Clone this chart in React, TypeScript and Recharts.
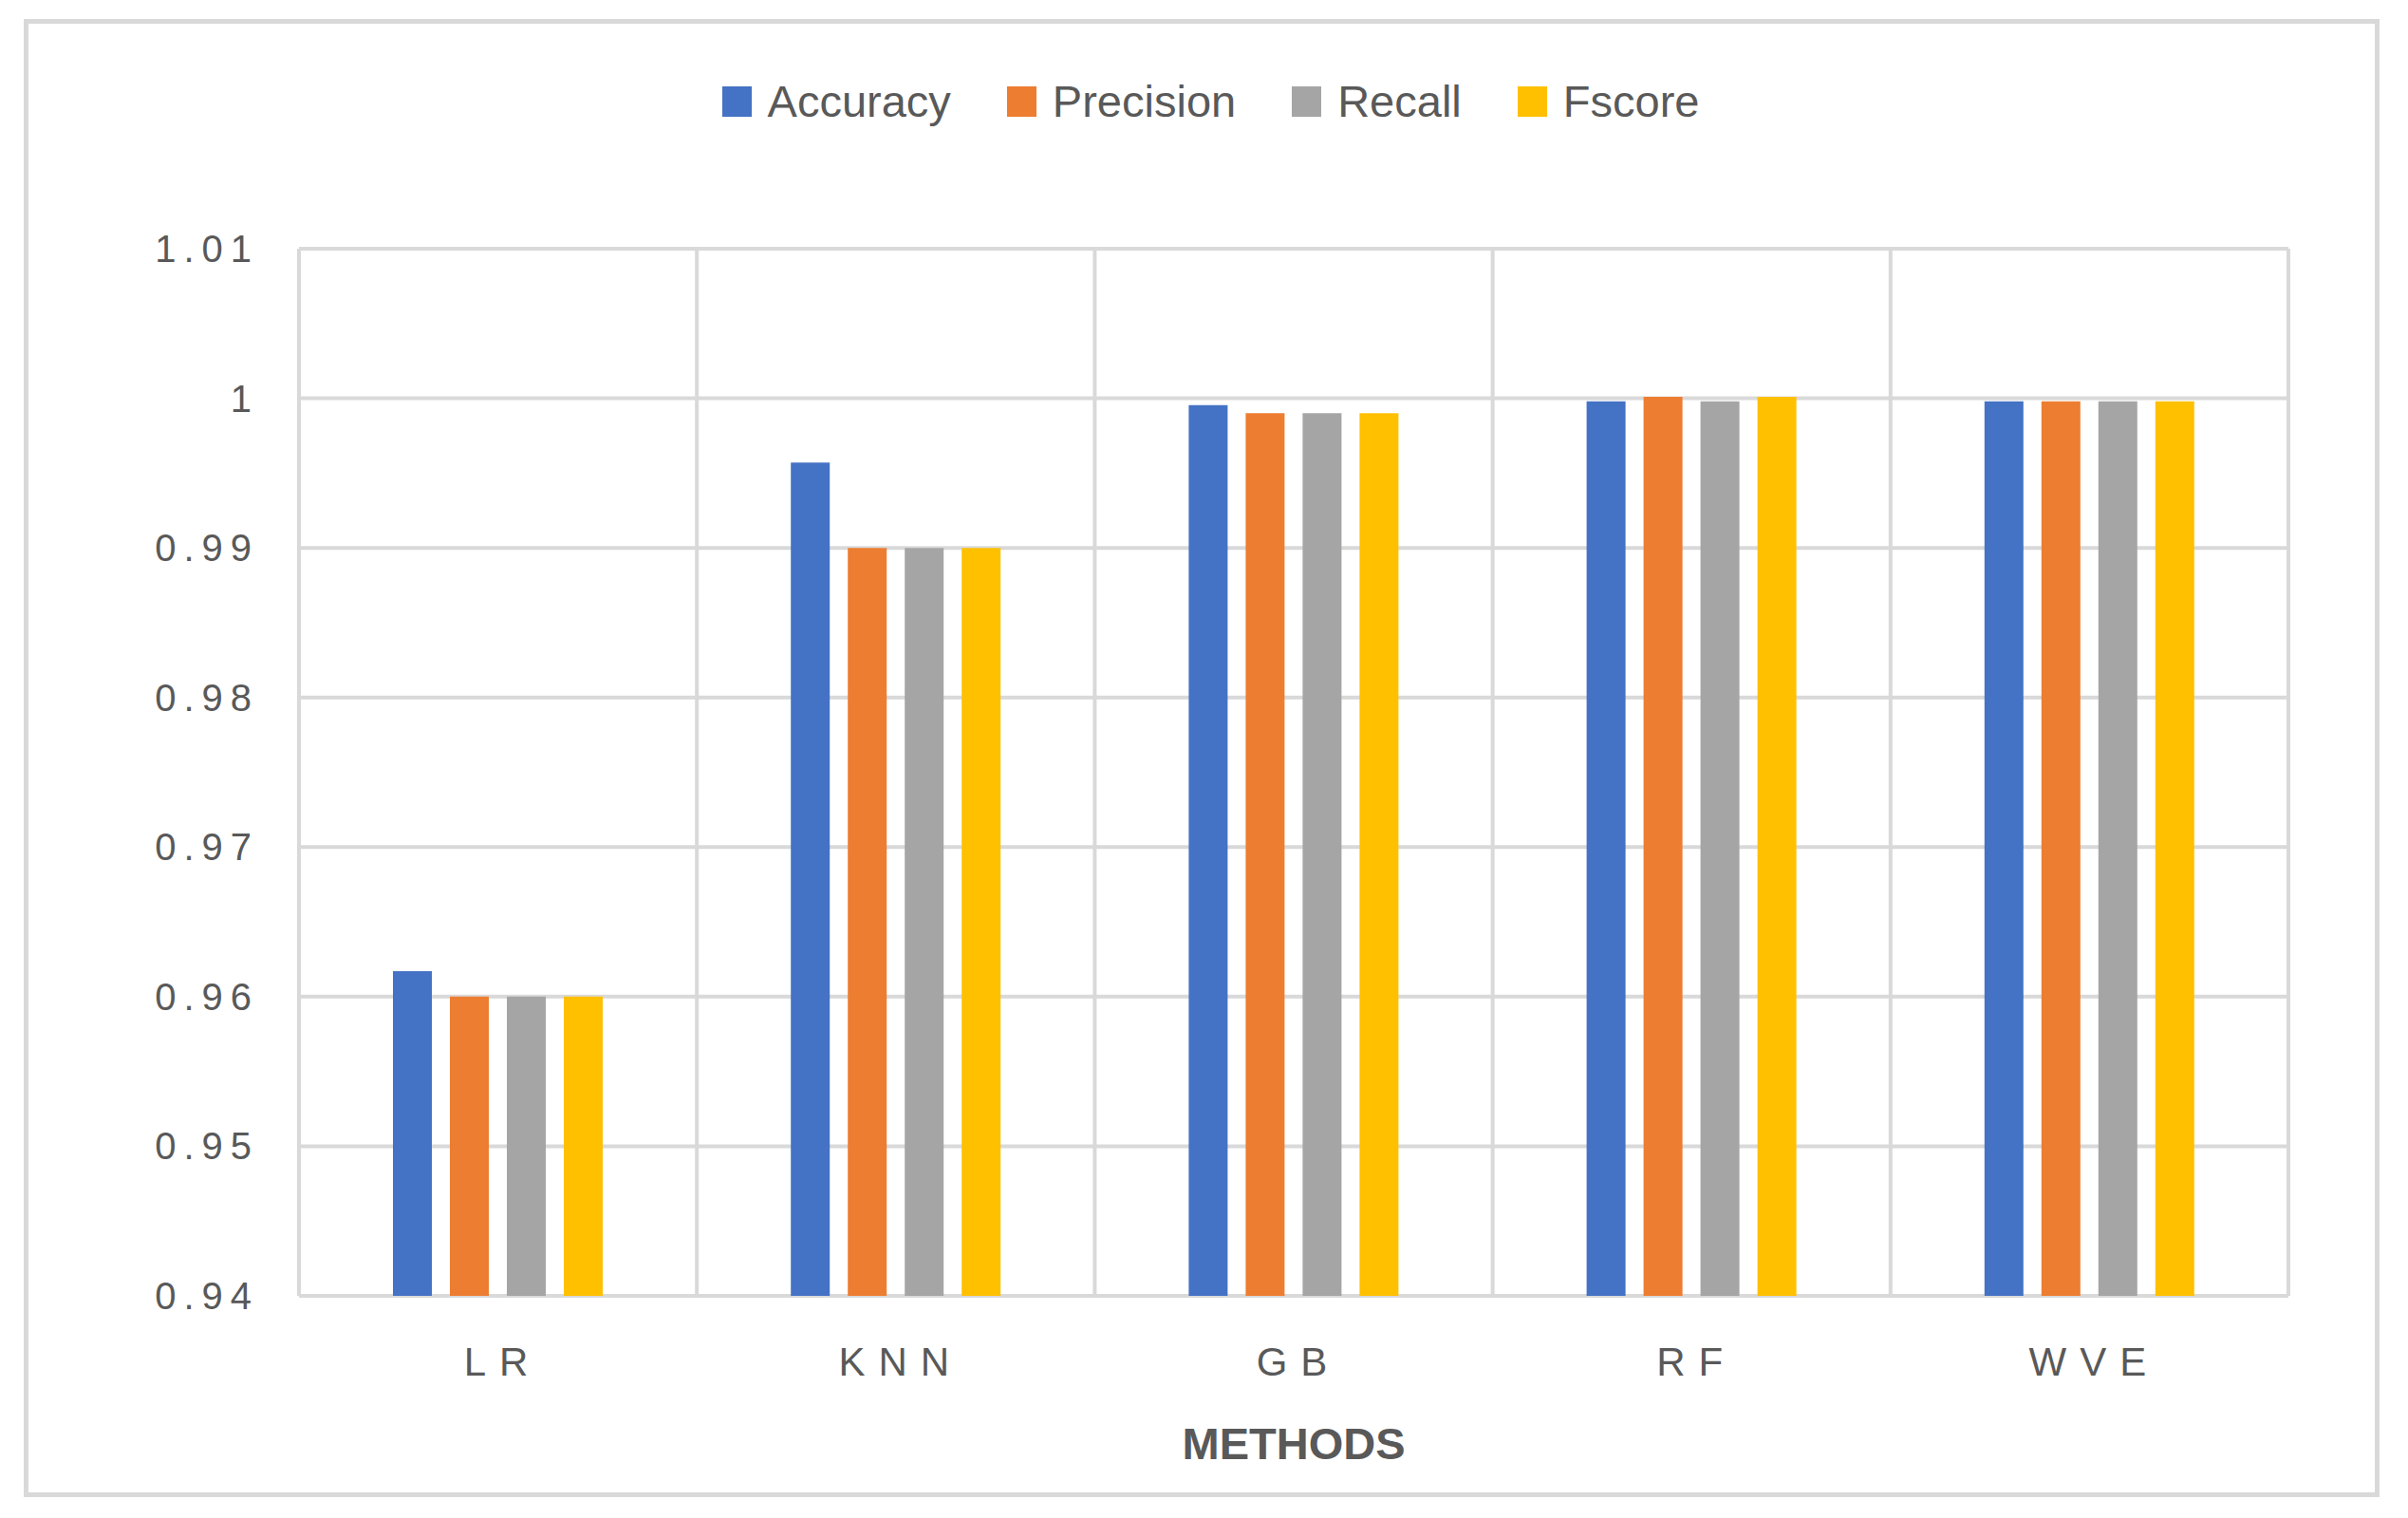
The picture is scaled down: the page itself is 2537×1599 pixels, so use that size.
import { BarChart, Bar, XAxis, YAxis, CartesianGrid, Legend } from 'recharts'

const methods = ['LR', 'KNN', 'GB', 'RF', 'WVE']
const accuracy = [0.9617, 0.9957, 0.99955, 0.9998, 0.9998]
const precision = [0.96, 0.99, 0.999, 1.0001, 0.9998]
const recall = [0.96, 0.99, 0.999, 0.9998, 0.9998]
const fscore = [0.96, 0.99, 0.999, 1.0001, 0.9998]
const yTicks = [0.94, 0.95, 0.96, 0.97, 0.98, 0.99, 1, 1.01]

const series = [
  { key: 'Accuracy', color: '#4472C4' },
  { key: 'Precision', color: '#ED7D31' },
  { key: 'Recall', color: '#A5A5A5' },
  { key: 'Fscore', color: '#FFC000' },
]

const data = methods.map((m, i) => ({
  method: m,
  Accuracy: accuracy[i],
  Precision: precision[i],
  Recall: recall[i],
  Fscore: fscore[i],
}))

const FONT = '"Liberation Sans", Arial, sans-serif'
const TEXT = '#595959'

const XTick = ({ x, y, payload }: any) => (
  <text x={x + 5} y={y + 82} textAnchor="middle" fill={TEXT} fontSize={42} fontFamily={FONT} letterSpacing={14}>
    {payload.value}
  </text>
)

const YTick = ({ x, y, payload }: any) => (
  <text x={x - 40} y={y + 14} textAnchor="end" fill={TEXT} fontSize={40} fontFamily={FONT} letterSpacing={8}>
    {String(+Number(payload.value).toFixed(2))}
  </text>
)

// legend order follows the series list, not the alphabetical payload order
const renderLegend = () => (
  <div style={{ display: 'flex', justifyContent: 'center', alignItems: 'center', paddingLeft: 14 }}>
    {series.map((s, i) => (
      <div key={s.key} style={{ display: 'flex', alignItems: 'center', marginLeft: i === 0 ? 0 : 59 }}>
        <span style={{ display: 'inline-block', width: 31, height: 32, background: s.color, marginRight: 17 }} />
        <span style={{ fontFamily: FONT, fontSize: 47, color: TEXT, lineHeight: '54px' }}>{s.key}</span>
      </div>
    ))}
  </div>
)

export default function App() {
  return (
    <div style={{ position: 'absolute', left: 0, top: 0, width: 2537, height: 1599, background: '#fff' }}>
      <div
        style={{
          position: 'absolute',
          left: 25,
          top: 20,
          width: 2482,
          height: 1557,
          border: '5px solid #d9d9d9',
          boxSizing: 'border-box',
        }}
      />
      <BarChart
        width={2537}
        height={1599}
        data={data}
        margin={{ top: 262, right: 126, left: 0, bottom: 0 }}
        barSize={41}
        barGap={19}
        style={{ position: 'absolute', left: 0, top: 0 }}
      >
        <CartesianGrid
          stroke="#d9d9d9"
          strokeWidth={4}
          verticalCoordinatesGenerator={({ offset }: any) =>
            methods.concat(['']).map((_, i) => offset.left + (i * offset.width) / methods.length)
          }
        />
        <XAxis
          dataKey="method"
          height={234}
          axisLine={false}
          tickLine={false}
          tickSize={0}
          tick={<XTick />}
          label={{
            value: 'METHODS',
            position: 'insideBottom',
            offset: 62,
            fill: TEXT,
            fontSize: 47,
            fontWeight: 'bold',
            fontFamily: FONT,
          }}
        />
        <YAxis
          type="number"
          domain={[0.94, 1.01]}
          ticks={yTicks}
          width={315}
          axisLine={false}
          tickLine={false}
          tickSize={0}
          tick={<YTick />}
          interval={0}
        />
        <Legend
          verticalAlign="middle"
          align="center"
          layout="horizontal"
          content={renderLegend}
          wrapperStyle={{ top: 80, left: 0, width: 2537 }}
        />
        {series.map((s) => (
          <Bar key={s.key} dataKey={s.key} fill={s.color} isAnimationActive={false} />
        ))}
      </BarChart>
    </div>
  )
}
